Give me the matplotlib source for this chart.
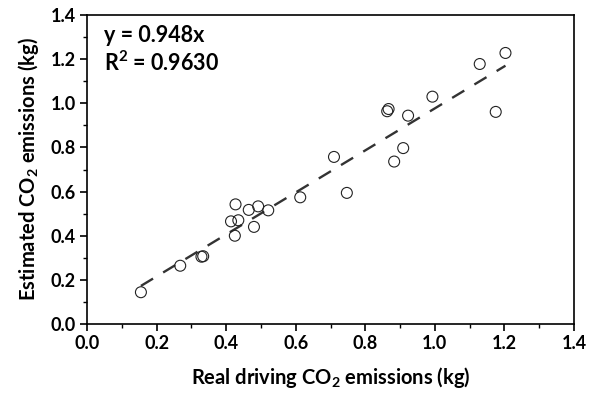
import matplotlib
matplotlib.use("Agg")
import matplotlib.pyplot as plt
import numpy as np
from matplotlib.ticker import MultipleLocator, FormatStrFormatter

# Data
real_co2 = [0.155, 0.268, 0.329, 0.334, 0.414, 0.427, 0.425, 0.435, 0.465,
            0.480, 0.492, 0.521, 0.613, 0.710, 0.747, 0.863, 0.867, 0.883,
            0.909, 0.923, 0.993, 1.129, 1.175, 1.203]
est_co2 = [0.144, 0.264, 0.305, 0.307, 0.465, 0.542, 0.400, 0.470, 0.517,
           0.440, 0.533, 0.515, 0.574, 0.757, 0.594, 0.964, 0.974, 0.736,
           0.797, 0.944, 1.030, 1.178, 0.961, 1.228]
fit_slope = 0.952
fit_intercept = 0.025
eq_text = "y = 0.948x"
r2_text = "R$^2$ = 0.9630"

plt.rcParams["font.family"] = ["Lato", "DejaVu Sans"]
plt.rcParams["mathtext.fontset"] = "custom"
plt.rcParams["mathtext.rm"] = "Lato:bold"
plt.rcParams["mathtext.it"] = "Lato:bold"
plt.rcParams["mathtext.bf"] = "Lato:bold"

fig = plt.figure(figsize=(6.01, 3.95), dpi=100)
ax = fig.add_axes([87 / 601, 71 / 395, 487 / 601, 309 / 395])

ax.scatter(real_co2, est_co2, s=62, facecolors="none", edgecolors="#222222",
           linewidths=0.8, zorder=3)
xfit = np.array([min(real_co2), max(real_co2)])
ax.plot(xfit, fit_slope * xfit + fit_intercept, "--", color="#333333",
        lw=1.7, dashes=(6, 5), zorder=2)

ax.set_xlim(0, 1.4)
ax.set_ylim(0, 1.4)
ax.xaxis.set_major_locator(MultipleLocator(0.2))
ax.xaxis.set_minor_locator(MultipleLocator(0.1))
ax.yaxis.set_major_locator(MultipleLocator(0.2))
ax.yaxis.set_minor_locator(MultipleLocator(0.1))
ax.xaxis.set_major_formatter(FormatStrFormatter("%.1f"))
ax.yaxis.set_major_formatter(FormatStrFormatter("%.1f"))
ax.tick_params(which="major", direction="out", length=5, width=1.2,
               labelsize=13, top=False, right=False, pad=3)
ax.tick_params(which="minor", direction="out", length=3, width=1.0,
               top=False, right=False)
for lbl in ax.get_xticklabels() + ax.get_yticklabels():
    lbl.set_fontweight("bold")
for sp in ax.spines.values():
    sp.set_linewidth(1.2)

ax.set_xlabel("Real driving CO$_2$ emissions (kg)", fontsize=14.5,
              fontweight="bold", labelpad=9)
ax.set_ylabel("Estimated CO$_2$ emissions (kg)", fontsize=14.5,
              fontweight="bold", labelpad=7)

ax.text(0.035, 0.935, eq_text, transform=ax.transAxes, fontsize=15.5,
        fontweight="bold", va="center")
ax.text(0.035, 0.845, r2_text, transform=ax.transAxes, fontsize=15.5,
        fontweight="bold", va="center")

fig.savefig("out.png", dpi=100)
